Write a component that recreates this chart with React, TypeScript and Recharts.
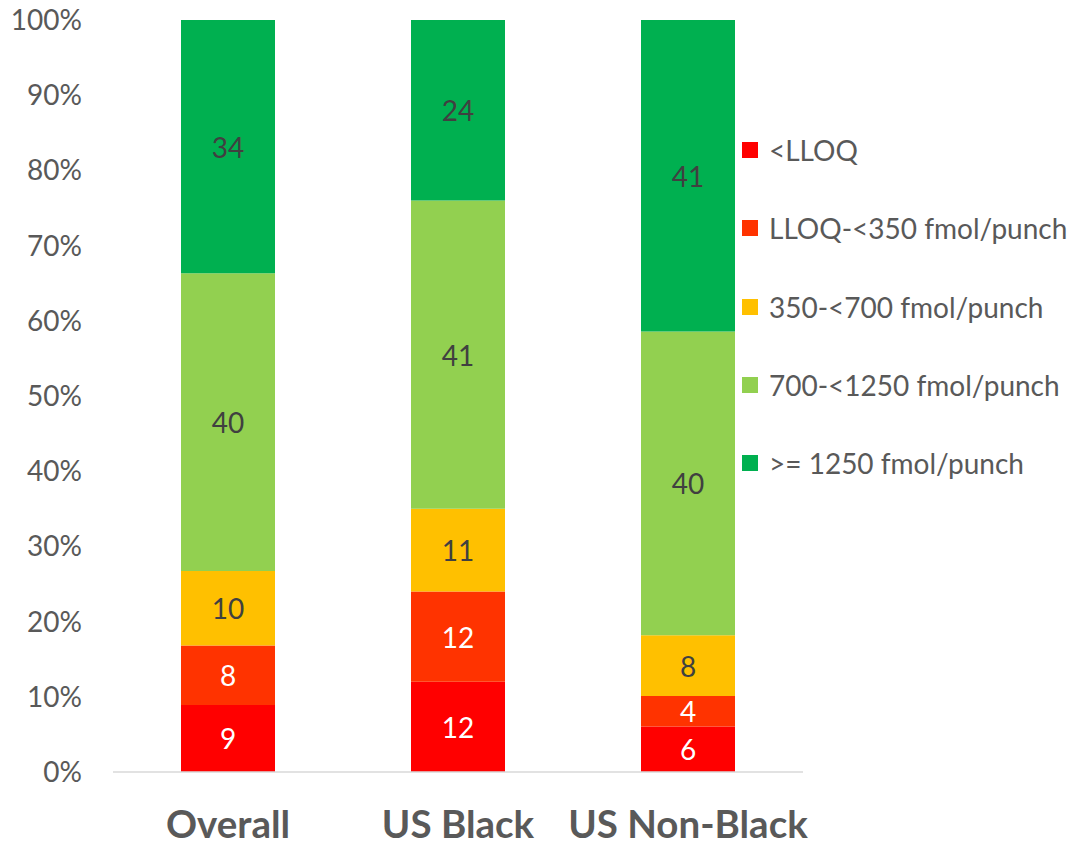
import { BarChart, Bar, XAxis, YAxis, LabelList } from "recharts";

const groups = ["Overall", "US Black", "US Non-Black"];
const lloq = [9, 12, 6];
const below350 = [8, 12, 4];
const below700 = [10, 11, 8];
const below1250 = [40, 41, 40];
const above1250 = [34, 24, 41];
const yTicks = [0, 0.1, 0.2, 0.3, 0.4, 0.5, 0.6, 0.7, 0.8, 0.9, 1];

const series = [
  { key: "lloq", name: "<LLOQ", color: "#FF0000", text: "#FFFFFF", values: lloq },
  { key: "b350", name: "LLOQ-<350 fmol/punch", color: "#FF3300", text: "#FFFFFF", values: below350 },
  { key: "b700", name: "350-<700 fmol/punch", color: "#FFC000", text: "#404040", values: below700 },
  { key: "b1250", name: "700-<1250 fmol/punch", color: "#92D050", text: "#404040", values: below1250 },
  { key: "a1250", name: ">= 1250 fmol/punch", color: "#00B050", text: "#404040", values: above1250 },
];

const data = groups.map((g, i) => {
  const row: any = { group: g };
  series.forEach((s) => (row[s.key] = s.values[i]));
  return row;
});

const FONT = "Lato, 'Open Sans', sans-serif";

function LegendBox() {
  return (
    <div style={{ position: "absolute", left: 742, top: 111, fontFamily: FONT }}>
      {series.map((s) => (
        <div key={s.key} style={{ height: 78.3, display: "flex", alignItems: "center" }}>
          <div style={{ width: 16, height: 16, background: s.color, marginRight: 11 }} />
          <span style={{ fontSize: 28, color: "#595959", whiteSpace: "nowrap" }}>{s.name}</span>
        </div>
      ))}
    </div>
  );
}

export default function App() {
  return (
    <div style={{ position: "relative", top: -8, left: -8, width: 1076, height: 845 }}>
      <BarChart
        width={1076}
        height={845}
        data={data}
        stackOffset="expand"
        margin={{ top: 20, right: 273, left: 13, bottom: 13 }}
      >
        <XAxis
          dataKey="group"
          axisLine={{ stroke: "#D9D9D9", strokeWidth: 1.5 }}
          tickLine={false}
          tickSize={0}
          tickMargin={39}
          height={60}
          tick={{ fill: "#595959", fontSize: 38.5, fontWeight: 700, fontFamily: FONT }}
        />
        <YAxis
          width={100}
          ticks={yTicks}
          domain={[0, 1]}
          axisLine={false}
          tickLine={false}
          tickSize={0}
          tickMargin={31}
          interval={0}
          tickFormatter={(v: number) => `${Math.round(v * 100)}%`}
          tick={{ fill: "#595959", fontSize: 28, fontFamily: FONT }}
        />
        {series.map((s) => (
          <Bar
            key={s.key}
            dataKey={s.key}
            name={s.name}
            stackId="a"
            fill={s.color}
            barSize={94}
            isAnimationActive={false}
          >
            <LabelList
              dataKey={s.key}
              content={(p: any) => (
                <text
                  x={Number(p.x) + Number(p.width) / 2}
                  y={Number(p.y) + Number(p.height) / 2}
                  textAnchor="middle"
                  dominantBaseline="central"
                  fill={s.text}
                  fontSize={28}
                  fontFamily={FONT}
                >
                  {s.values[p.index]}
                </text>
              )}
            />
          </Bar>
        ))}
      </BarChart>
      <LegendBox />
    </div>
  );
}
